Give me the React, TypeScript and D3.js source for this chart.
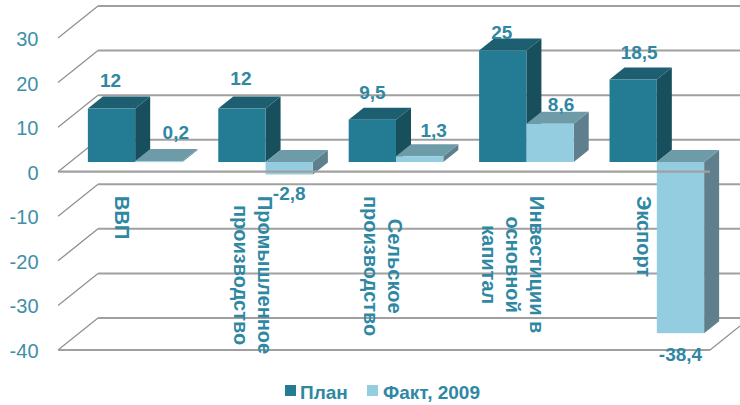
import React from "react";
import * as d3 from "d3";

const categories = ["ВВП", "Промышленное производство", "Сельское производство", "Инвестиции в основной капитал", "Экспорт"];
const categoryLines = [["ВВП"], ["Промышленное", "производство"], ["Сельское", "производство"], ["Инвестиции в", "основной", "капитал"], ["Экспорт"]];
const planValues = [12, 12, 9.5, 25, 18.5];
const factValues = [0.2, -2.8, 1.3, 8.6, -38.4];
const planLabels = ["12", "12", "9,5", "25", "18,5"];
const factLabels = ["0,2", "-2,8", "1,3", "8,6", "-38,4"];
const yTicks = [30, 20, 10, 0, -10, -20, -30, -40];
const seriesNames = ["План", "Факт, 2009"];

const planNudge = [[-1, -29], [-1, -31], [0, -28], [-1, -19], [6, -28]];
const factNudge = [[17, -29], [0, 19], [14, -26], [11, -20], [0, 21]];

const W = 740, H = 405;
const TEAL = "#2f88a3";
const GRID = "#a0a0a0";
const FONT = "'Liberation Sans', Arial, sans-serif";
const BACK_DX = 40, BACK_DY = -32;
const DEPTH_X = 15, DEPTH_Y = -12;
const FLOOR_X = 12, FLOOR_Y = -9.7;
const PLAN = { face: "#237b94", top: "#1d5f70", side: "#174f5d" };
const FACT = { face: "#94cddf", top: "#6e9ba8", side: "#5e7f8b" };
const CAT_SIZE = 20;

const y = d3.scaleLinear().domain([-40, 30]).range([350, 38]);
const x0 = d3.scaleBand<string>().domain(categories).range([58, 710]).paddingInner(0.2745).paddingOuter(0.137);
const x1 = d3.scaleBand<string>().domain(seriesNames).range([0, x0.bandwidth()]);
const line = d3.line<[number, number]>();

function measure(text: string, font: string): number {
  const ctx = document.createElement("canvas").getContext("2d")!;
  ctx.font = font;
  return ctx.measureText(text).width;
}

function Bar({ cat, s, v, c }: { cat: string; s: string; v: number; c: typeof PLAN }) {
  const left = x0(cat)! + x1(s)! + FLOOR_X;
  const w = x1.bandwidth();
  const right = left + w;
  const base = y(0) + FLOOR_Y;
  const val = y(v) + FLOOR_Y;
  const top = Math.min(base, val);
  const bottom = Math.max(base, val);
  const poly = (pts: [number, number][]) => line(pts)! + "Z";
  return (
    <g>
      <path d={poly([[right, top], [right + DEPTH_X, top + DEPTH_Y], [right + DEPTH_X, bottom + DEPTH_Y], [right, bottom]])} fill={c.side} />
      <path d={poly([[left, top], [left + DEPTH_X, top + DEPTH_Y], [right + DEPTH_X, top + DEPTH_Y], [right, top]])} fill={c.top} />
      <rect x={left} y={top} width={w} height={Math.max(bottom - top, 1)} fill={c.face} />
    </g>
  );
}

export default function App() {
  const catFont = `bold ${CAT_SIZE}px ${FONT}`;
  return (
    <svg width={W} height={H} viewBox={`0 0 ${W} ${H}`} style={{ position: "absolute", left: 0, top: 0, background: "#fff" }} fontFamily={FONT}>
      {yTicks.map((t) => (
        <g key={t}>
          <path d={line([[58, y(t)], [58 + BACK_DX, y(t) + BACK_DY]])!} stroke="#8f8f8f" strokeWidth={1.3} fill="none" />
          <line x1={58 + BACK_DX} x2={W} y1={y(t) + BACK_DY} y2={y(t) + BACK_DY} stroke={GRID} strokeWidth={2} />
          <text x={38.5} y={y(t) + 8} textAnchor="end" fontSize={20} fill="#3f8fa9">{t}</text>
        </g>
      ))}
      <line x1={58} x2={710} y1={y(-40)} y2={y(-40)} stroke={GRID} strokeWidth={2.2} />
      <line x1={710} x2={W} y1={y(-40)} y2={y(-40) + (BACK_DY * 30) / BACK_DX} stroke="#8f8f8f" strokeWidth={1.3} />

      {categories.map((c, i) => (
        <g key={c}>
          <Bar cat={c} s={seriesNames[0]} v={planValues[i]} c={PLAN} />
          <Bar cat={c} s={seriesNames[1]} v={factValues[i]} c={FACT} />
        </g>
      ))}

      <line x1={58} x2={710} y1={y(0)} y2={y(0)} stroke={GRID} strokeWidth={2.2} />

      {categories.map((c, i) => {
        const lines = categoryLines[i];
        const longest = Math.max(...lines.map((l) => measure(l, catFont)));
        const cy = 196 + longest / 2;
        const cx = x0(c)! + x0.bandwidth() / 2 - 1;
        return (
          <g key={c} transform={`translate(${cx},${cy}) rotate(90)`}>
            {lines.map((l, j) => (
              <text key={l} x={0} y={(j - (lines.length - 1) / 2) * 24 + 7} textAnchor="middle" fontSize={CAT_SIZE} fontWeight="bold" fill={TEAL}>{l}</text>
            ))}
          </g>
        );
      })}

      {categories.map((c, i) => {
        const cx = (s: string) => x0(c)! + x1(s)! + FLOOR_X + x1.bandwidth() / 2;
        const pv = y(planValues[i]) + FLOOR_Y;
        const fv = y(factValues[i]) + FLOOR_Y;
        return (
          <g key={c} fontSize={19} fontWeight="bold" fill={TEAL} textAnchor="middle">
            <text x={cx(seriesNames[0]) + planNudge[i][0]} y={pv + planNudge[i][1] + 7}>{planLabels[i]}</text>
            <text x={cx(seriesNames[1]) + factNudge[i][0]} y={fv + factNudge[i][1] + 7}>{factLabels[i]}</text>
          </g>
        );
      })}

      <g fontSize={19} fontWeight="bold" fill={TEAL}>
        <rect x={285} y={385} width={11} height={11} fill={PLAN.face} />
        <text x={300} y={399}>{seriesNames[0]}</text>
        <rect x={367} y={385} width={11} height={11} fill={FACT.face} />
        <text x={383} y={399}>{seriesNames[1]}</text>
      </g>
    </svg>
  );
}
